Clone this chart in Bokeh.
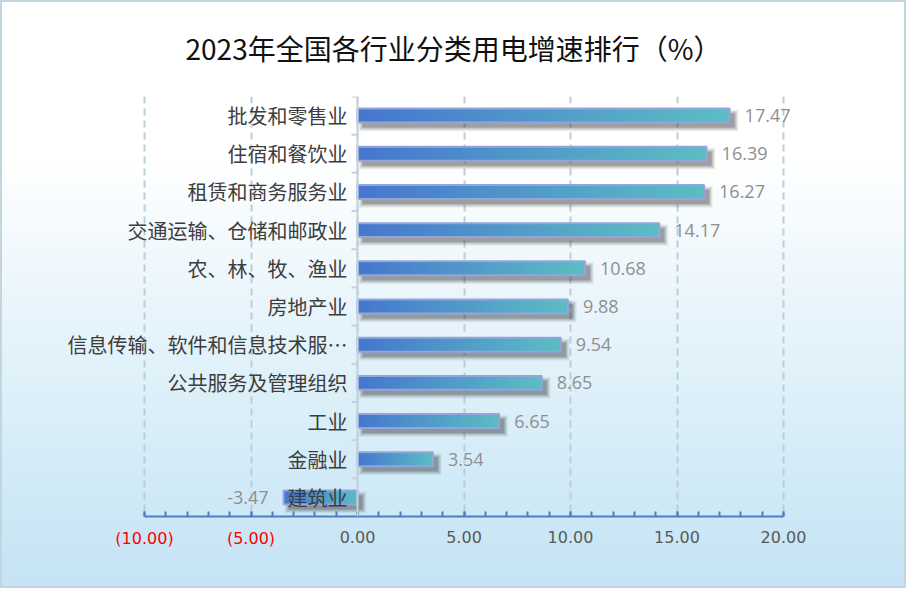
import numpy as np
from bokeh.plotting import figure
from bokeh.models import (Range1d, LinearAxis, SingleIntervalTicker, FixedTicker,
                          NumeralTickFormatter, Span, ColumnDataSource, Grid, LabelSet)
from bokeh.core.properties import value
from bokeh.embed import file_html
from bokeh.resources import INLINE

# data, top row first
industries = ["批发和零售业", "住宿和餐饮业", "租赁和商务服务业", "交通运输、仓储和邮政业",
              "农、林、牧、渔业", "房地产业", "信息传输、软件和信息技术服务业",
              "公共服务及管理组织", "工业", "金融业", "建筑业"]
growth = [17.47, 16.39, 16.27, 14.17, 10.68, 9.88, 9.54, 8.65, 6.65, 3.54, -3.47]
grid_ticks = [-10, -5, 0, 5, 10, 15, 20]
neg_ticks = [-10, -5]
axis_bounds = (-10, 20)

TITLE = "2023年全国各行业分类用电增速排行（%）"
CJK = "Noto Sans CJK SC"

W, H = 906, 588
L, R, T, B = 10, 10, 95, 72
zero_px, px_unit = 357, 21.3      # where 0 sits and pixels per unit
n = len(industries)
ux = 1 / px_unit
uy = n / (H - T - B)
x0 = -(zero_px - L) * ux
x1 = x0 + (W - L - R) * ux

p = figure(width=W, height=H, x_range=Range1d(x0, x1), y_range=Range1d(n - 0.5, -0.5),
           x_axis_location=None, y_axis_location=None,
           output_backend="svg", toolbar_location=None,
           min_border_left=L, min_border_right=R, min_border_top=T, min_border_bottom=B,
           border_fill_color=None, background_fill_color=None, outline_line_color=None,
           title=TITLE,
           styles={"background": "linear-gradient(to bottom, #ffffff 0%, #ffffff 27%, "
                                 "#e9f5fb 52%, #d4ecf8 78%, #c4e3f4 100%)",
                   "box-shadow": "inset 0 0 0 2px #c3d5df"})
for g in p.grid:
    g.visible = False

p.title.align = "center"
p.title.vertical_align = "top"
p.title.text_font = CJK
p.title.text_font_size = "28px"
p.title.text_font_style = "normal"
p.title.text_color = "#111111"
p.title.standoff = 54
p.title.offset = 3

grid = Grid(dimension=0, ticker=FixedTicker(ticks=grid_ticks),
            grid_line_color="#b9ced9", grid_line_width=2, grid_line_dash="7 5")
p.add_layout(grid)

ys = np.arange(n)
vals = np.array(growth)
lefts = np.minimum(vals, 0)
rights = np.maximum(vals, 0)
h = 14 * uy

# soft drop shadow
dx, dy = 5 * ux, 5 * uy
for grow, a in [(4, 0.05), (3, 0.07), (2, 0.10), (1, 0.12), (0, 0.17)]:
    p.hbar(y=ys + dy, left=lefts + dx - grow * ux, right=rights + dx + grow * ux,
           height=h + 2 * grow * uy, fill_color="#222222", fill_alpha=a, line_color=None)

# horizontal gradient fill for each bar
m = 256
t = np.linspace(0, 1, m)[:, None]
rgb = np.array([70, 119, 207]) * (1 - t) + np.array([92, 190, 196]) * t
img = np.zeros((1, m), dtype=np.uint32)
view = img.view(dtype=np.uint8).reshape((1, m, 4))
view[0, :, :3] = rgb.astype(np.uint8)
view[0, :, 3] = 255
p.image_rgba(image=[img] * n, x=lefts, y=ys - h / 2, dw=rights - lefts, dh=[h] * n)
p.hbar(y=ys, left=lefts, right=rights, height=h, fill_color=None,
       line_color="#93a5dc", line_width=2)

# y axis line at zero with boundary ticks
p.add_layout(Span(location=0, dimension="height", line_color="#c3d2dc", line_width=2))
edges = np.arange(n + 1) - 0.5
p.segment(x0=[0] * (n + 1), y0=edges, x1=[-6 * ux] * (n + 1), y1=edges,
          line_color="#c3d2dc", line_width=2)

# category names
names = [s if len(s) <= 14 else s[:13] + "…" for s in industries]
cat_src = ColumnDataSource(dict(x=[0] * n, y=ys, txt=names))
p.add_layout(LabelSet(x="x", y="y", text="txt", source=cat_src, x_offset=-10,
                      text_align="right", text_baseline="middle", text_font=value(CJK),
                      text_font_size="20px", text_color="#3d3d3d"))

# value labels
pos = vals >= 0
for mask, off, al in [(pos, 15, "left"), (~pos, -15, "right")]:
    src = ColumnDataSource(dict(x=vals[mask], y=ys[mask],
                                txt=["%.2f" % v for v in vals[mask]]))
    p.add_layout(LabelSet(x="x", y="y", text="txt", source=src, x_offset=off,
                          text_align=al, text_baseline="middle",
                          text_font=value("Open Sans"), text_font_size="18px",
                          text_color="#8f8f8f"))

# x axes: main axis with grey labels, second one carries the red negatives
ax = LinearAxis(ticker=SingleIntervalTicker(interval=5, num_minor_ticks=5),
                formatter=NumeralTickFormatter(format="0.00"),
                major_label_overrides={v: "" for v in neg_ticks}, bounds=axis_bounds)
ax.axis_line_color = "#4a7fc0"
ax.axis_line_width = 2
ax.major_tick_line_color = "#4a7fc0"
ax.minor_tick_line_color = "#4a7fc0"
ax.major_tick_line_width = 2
ax.minor_tick_line_width = 2
ax.major_tick_in = 5
ax.major_tick_out = 0
ax.minor_tick_in = 5
ax.minor_tick_out = 0
ax.major_label_standoff = 14
ax.major_label_text_font = "DejaVu Sans"
ax.major_label_text_font_size = "16px"
ax.major_label_text_color = "#595959"
p.add_layout(ax, "below")

ax2 = LinearAxis(ticker=FixedTicker(ticks=neg_ticks),
                 formatter=NumeralTickFormatter(format="(0.00)"), bounds=axis_bounds)
ax2.axis_line_color = None
ax2.major_tick_line_color = None
ax2.minor_tick_line_color = None
ax2.major_label_standoff = -23
ax2.major_label_text_font = "DejaVu Sans"
ax2.major_label_text_font_size = "16px"
ax2.major_label_text_color = "#ff0000"
p.add_layout(ax2, "below")

open("out.html", "w").write(file_html(p, INLINE))
